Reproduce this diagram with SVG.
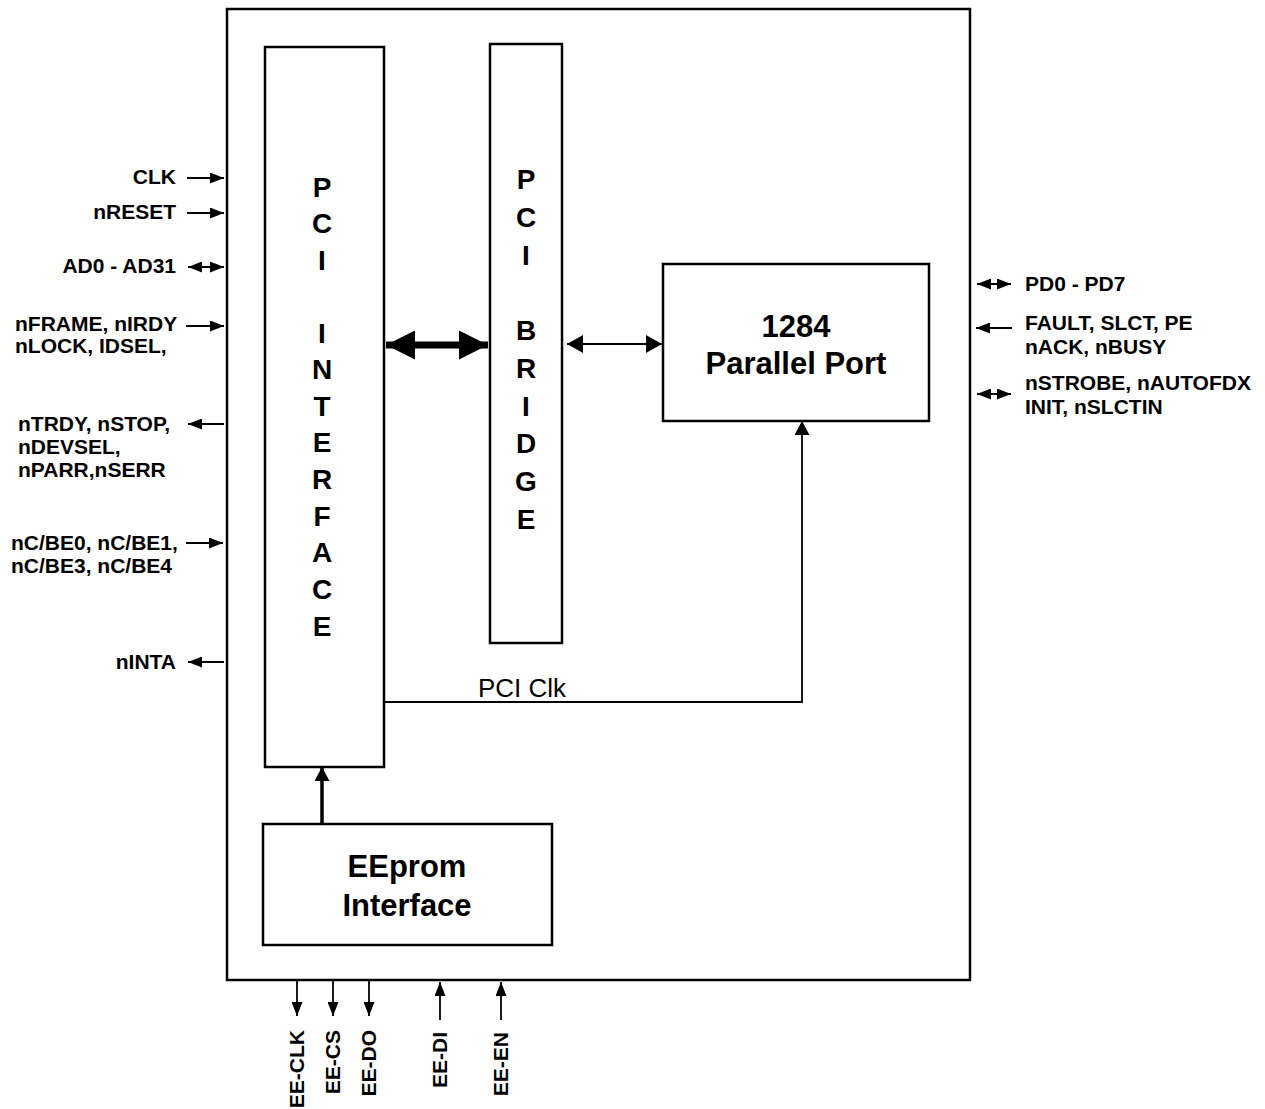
<svg xmlns="http://www.w3.org/2000/svg" width="1265" height="1109" viewBox="0 0 1265 1109">
<style>
.box{fill:#fff;stroke:#000;stroke-width:2.5}
.lbl{font-family:"Liberation Sans",Arial,sans-serif;font-weight:bold;font-size:21px;fill:#000}
.big{font-family:"Liberation Sans",Arial,sans-serif;font-weight:bold;font-size:31px;fill:#000}
.vert{font-family:"Liberation Sans",Arial,sans-serif;font-weight:bold;font-size:28px;fill:#000;text-anchor:middle}
.ln{stroke:#000;stroke-width:1.8;fill:none}
</style>
<defs>
<marker id="ah" viewBox="0 0 14 11" refX="14" refY="5.5" markerWidth="14" markerHeight="11" markerUnits="userSpaceOnUse" orient="auto-start-reverse"><path d="M0,0 L14,5.5 L0,11 Z" fill="#000"/></marker>
<marker id="ahm" viewBox="0 0 16 18" refX="16" refY="9" markerWidth="16" markerHeight="18" markerUnits="userSpaceOnUse" orient="auto-start-reverse"><path d="M0,0 L16,9 L0,18 Z" fill="#000"/></marker>
<marker id="ahb" viewBox="0 0 29 29" refX="29" refY="14.5" markerWidth="29" markerHeight="29" markerUnits="userSpaceOnUse" orient="auto-start-reverse"><path d="M0,0 L29,14.5 L0,29 Z" fill="#000"/></marker>
<marker id="ahe" viewBox="0 0 14 15" refX="14" refY="7.5" markerWidth="14" markerHeight="15" markerUnits="userSpaceOnUse" orient="auto-start-reverse"><path d="M0,0 L14,7.5 L0,15 Z" fill="#000"/></marker>
</defs>

<g id="chip"><rect class="box" x="227" y="9" width="743" height="971" stroke-width="3"/></g>

<g id="pci-interface">
<rect class="box" x="265" y="47" width="119" height="720"/>
<text class="vert" x="322" y="197">P</text>
<text class="vert" x="322" y="233">C</text>
<text class="vert" x="322" y="270">I</text>
<text class="vert" x="322" y="343">I</text>
<text class="vert" x="322" y="379">N</text>
<text class="vert" x="322" y="416">T</text>
<text class="vert" x="322" y="452">E</text>
<text class="vert" x="322" y="489">R</text>
<text class="vert" x="322" y="526">F</text>
<text class="vert" x="322" y="562">A</text>
<text class="vert" x="322" y="599">C</text>
<text class="vert" x="322" y="636">E</text>
</g>

<g id="pci-bridge">
<rect class="box" x="490" y="44" width="72" height="599"/>
<text class="vert" x="526" y="189">P</text>
<text class="vert" x="526" y="227">C</text>
<text class="vert" x="526" y="265">I</text>
<text class="vert" x="526" y="340">B</text>
<text class="vert" x="526" y="378">R</text>
<text class="vert" x="526" y="416">I</text>
<text class="vert" x="526" y="453">D</text>
<text class="vert" x="526" y="491">G</text>
<text class="vert" x="526" y="529">E</text>
</g>

<g id="parallel-port">
<rect class="box" x="663" y="264" width="266" height="157"/>
<text class="big" x="796" y="337" text-anchor="middle">1284</text>
<text class="big" x="796" y="374" text-anchor="middle">Parallel Port</text>
</g>

<g id="eeprom">
<rect class="box" x="263" y="824" width="289" height="121"/>
<text class="big" x="407" y="877" text-anchor="middle">EEprom</text>
<text class="big" x="407" y="916" text-anchor="middle">Interface</text>
</g>

<g id="connectors">
<line x1="386" y1="345" x2="488" y2="345" stroke="#000" stroke-width="7" marker-start="url(#ahb)" marker-end="url(#ahb)"/>
<line x1="567" y1="344" x2="662" y2="344" class="ln" marker-start="url(#ahm)" marker-end="url(#ahm)"/>
<polyline points="384,702 802,702 802,421" class="ln" stroke-width="2" marker-end="url(#ahe)"/>
<line x1="322" y1="824" x2="322" y2="767" stroke="#000" stroke-width="3.5" marker-end="url(#ahe)"/>
<text x="478" y="697" font-family="Liberation Sans,Arial,sans-serif" font-size="26" fill="#000">PCI Clk</text>

<line x1="187" y1="178" x2="224" y2="178" class="ln" marker-end="url(#ah)"/>
<line x1="187" y1="213" x2="224" y2="213" class="ln" marker-end="url(#ah)"/>
<line x1="188" y1="267" x2="224" y2="267" class="ln" marker-start="url(#ah)" marker-end="url(#ah)"/>
<line x1="186" y1="326" x2="224" y2="326" class="ln" marker-end="url(#ah)"/>
<line x1="224" y1="424" x2="188" y2="424" class="ln" marker-end="url(#ah)"/>
<line x1="186" y1="543" x2="223" y2="543" class="ln" marker-end="url(#ah)"/>
<line x1="224" y1="662" x2="188" y2="662" class="ln" marker-end="url(#ah)"/>

<line x1="977" y1="284" x2="1011" y2="284" class="ln" marker-start="url(#ah)" marker-end="url(#ah)"/>
<line x1="1012" y1="328" x2="976" y2="328" class="ln" marker-end="url(#ah)"/>
<line x1="977" y1="394" x2="1011" y2="394" class="ln" marker-start="url(#ah)" marker-end="url(#ah)"/>

<line x1="297" y1="980" x2="297" y2="1016" class="ln" marker-end="url(#ah)"/>
<line x1="333" y1="980" x2="333" y2="1016" class="ln" marker-end="url(#ah)"/>
<line x1="369" y1="980" x2="369" y2="1016" class="ln" marker-end="url(#ah)"/>
<line x1="440" y1="1020" x2="440" y2="982" class="ln" marker-end="url(#ah)"/>
<line x1="501" y1="1020" x2="501" y2="982" class="ln" marker-end="url(#ah)"/>
</g>

<g id="left-labels">
<text class="lbl" x="176" y="184" text-anchor="end">CLK</text>
<text class="lbl" x="176" y="219" text-anchor="end">nRESET</text>
<text class="lbl" x="176" y="273" text-anchor="end">AD0 - AD31</text>
<text class="lbl" x="15" y="331">nFRAME, nIRDY</text>
<text class="lbl" x="15" y="353">nLOCK, IDSEL,</text>
<text class="lbl" x="18" y="431">nTRDY, nSTOP,</text>
<text class="lbl" x="18" y="454">nDEVSEL,</text>
<text class="lbl" x="18" y="477">nPARR,nSERR</text>
<text class="lbl" x="11" y="550">nC/BE0, nC/BE1,</text>
<text class="lbl" x="11" y="573">nC/BE3, nC/BE4</text>
<text class="lbl" x="176" y="669" text-anchor="end">nINTA</text>
</g>

<g id="right-labels">
<text class="lbl" x="1025" y="291">PD0 - PD7</text>
<text class="lbl" x="1025" y="330">FAULT, SLCT, PE</text>
<text class="lbl" x="1025" y="354">nACK, nBUSY</text>
<text class="lbl" x="1025" y="390">nSTROBE, nAUTOFDX</text>
<text class="lbl" x="1025" y="414">INIT, nSLCTIN</text>
</g>

<g id="bottom-labels">
<text class="lbl" text-anchor="end" transform="translate(304,1030) rotate(-90)">EE-CLK</text>
<text class="lbl" text-anchor="end" transform="translate(340,1030) rotate(-90)">EE-CS</text>
<text class="lbl" text-anchor="end" transform="translate(376,1030) rotate(-90)">EE-DO</text>
<text class="lbl" text-anchor="end" transform="translate(447,1032) rotate(-90)">EE-DI</text>
<text class="lbl" text-anchor="end" transform="translate(508,1032) rotate(-90)">EE-EN</text>
</g>
</svg>
